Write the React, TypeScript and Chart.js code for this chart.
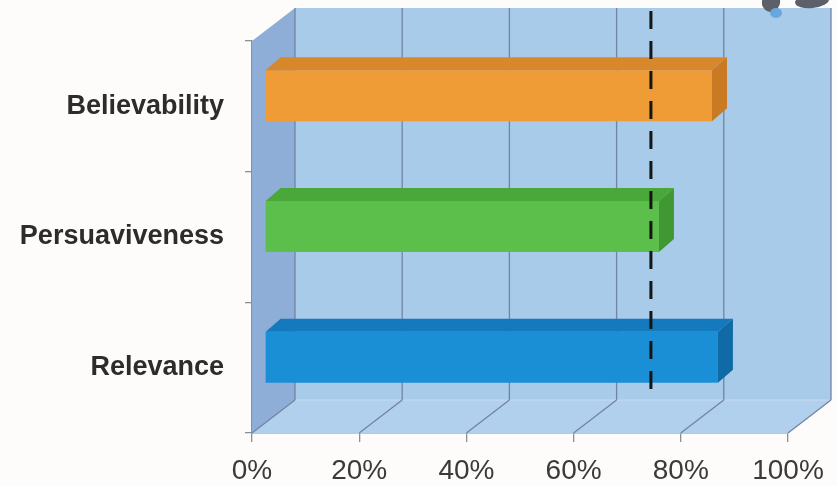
import React, { useEffect, useRef } from "react";
import { Chart, registerables } from "chart.js";

Chart.register(...registerables);

// Survey scores (percent of respondents)
const categories = ["Believability", "Persuaviveness", "Relevance"];
const scores = [83.4, 73.5, 84.5];
const benchmark = 72;
const xTickValues = [0, 20, 40, 60, 80, 100];

// Face colours for each bar: front, top, side
const frontColors = ["#ef9b36", "#5dbf4b", "#1a8fd5"];
const topColors = ["#d9872b", "#4aa83b", "#1479bd"];
const sideColors = ["#c97a22", "#3f9832", "#0f6aa6"];

// Perspective offsets of the plot box and of the bars
const BOX_DX = 43;
const BOX_DY = -33;
const BAR_SHIFT_X = 13;
const BAR_SHIFT_Y = -10.5;
const BAR_DEPTH_X = 15;
const BAR_DEPTH_Y = -13;

function poly(ctx: CanvasRenderingContext2D, pts: number[][], fill: string) {
  ctx.beginPath();
  ctx.moveTo(pts[0][0], pts[0][1]);
  for (let i = 1; i < pts.length; i++) ctx.lineTo(pts[i][0], pts[i][1]);
  ctx.closePath();
  ctx.fillStyle = fill;
  ctx.fill();
}

function line(ctx: CanvasRenderingContext2D, x1: number, y1: number, x2: number, y2: number) {
  ctx.beginPath();
  ctx.moveTo(x1, y1);
  ctx.lineTo(x2, y2);
  ctx.stroke();
}

const box3d = {
  id: "box3d",
  beforeDatasetsDraw(chart: any) {
    const { ctx, chartArea: a, scales } = chart;
    const xs = scales.x;
    const L = a.left, R = a.right, T = a.top, B = a.bottom;
    ctx.save();
    // back wall
    poly(ctx, [[L + BOX_DX, T + BOX_DY], [R + BOX_DX, T + BOX_DY], [R + BOX_DX, B + BOX_DY], [L + BOX_DX, B + BOX_DY]], "#a8cbea");
    // left side wall
    poly(ctx, [[L, T], [L + BOX_DX, T + BOX_DY], [L + BOX_DX, B + BOX_DY], [L, B]], "#8eaed8");
    // floor
    poly(ctx, [[L, B], [R, B], [R + BOX_DX, B + BOX_DY], [L + BOX_DX, B + BOX_DY]], "#b0d0ee");
    // floor/back edge
    ctx.strokeStyle = "rgba(200,222,244,0.9)";
    ctx.lineWidth = 1;
    line(ctx, L + BOX_DX, B + BOX_DY, R + BOX_DX, B + BOX_DY);
    // gridlines on back wall and floor
    ctx.strokeStyle = "#7483a0";
    ctx.lineWidth = 1.3;
    xTickValues.forEach((v) => {
      const px = xs.getPixelForValue(v);
      line(ctx, px + BOX_DX, T + BOX_DY, px + BOX_DX, B + BOX_DY);
      line(ctx, px + BOX_DX, B + BOX_DY, px, B);
    });
    ctx.restore();
  },
  beforeDatasetDraw(chart: any) {
    chart.ctx.save();
    chart.ctx.translate(BAR_SHIFT_X, BAR_SHIFT_Y);
  },
  afterDatasetDraw(chart: any, args: any) {
    const { ctx } = chart;
    args.meta.data.forEach((el: any, i: number) => {
      const { x, y, base, height } = el.getProps(["x", "y", "base", "height"], true);
      const top = y - height / 2;
      const bottom = y + height / 2;
      poly(ctx, [[base, top], [x, top], [x + BAR_DEPTH_X, top + BAR_DEPTH_Y], [base + BAR_DEPTH_X, top + BAR_DEPTH_Y]], topColors[i]);
      poly(ctx, [[x, top], [x + BAR_DEPTH_X, top + BAR_DEPTH_Y], [x + BAR_DEPTH_X, bottom + BAR_DEPTH_Y], [x, bottom]], sideColors[i]);
    });
    ctx.restore();
  },
  afterDatasetsDraw(chart: any) {
    const { ctx, chartArea: a, scales } = chart;
    const px = scales.x.getPixelForValue(benchmark) + BAR_SHIFT_X;
    ctx.save();
    ctx.strokeStyle = "#151515";
    ctx.lineWidth = 3;
    ctx.setLineDash([18, 12]);
    line(ctx, px, a.top - 30, px, a.bottom - 36);
    ctx.restore();
  },
  afterDraw(chart: any) {
    // small ornament peeking in at the top right corner
    const { ctx } = chart;
    ctx.save();
    ctx.fillStyle = "#5d6068";
    ctx.beginPath();
    ctx.ellipse(771, 2, 9, 10, 0.3, 0, Math.PI * 2);
    ctx.fill();
    ctx.beginPath();
    ctx.ellipse(812, 1, 17, 7, -0.1, 0, Math.PI * 2);
    ctx.fill();
    ctx.fillStyle = "#6aa6de";
    ctx.beginPath();
    ctx.ellipse(776, 13, 6, 5, 0, 0, Math.PI * 2);
    ctx.fill();
    ctx.restore();
  },
};

export default function App() {
  const ref = useRef<HTMLCanvasElement>(null);

  useEffect(() => {
    if (!ref.current) return;
    const chart = new Chart(ref.current, {
      type: "bar",
      data: {
        labels: categories,
        datasets: [
          {
            data: scores,
            backgroundColor: frontColors,
            borderWidth: 0,
            categoryPercentage: 1,
            barPercentage: 0.39,
            clip: false as any,
          },
        ],
      },
      options: {
        indexAxis: "y",
        responsive: false,
        animation: false,
        layout: { padding: { top: 41, right: 49, left: 0, bottom: 0 } },
        plugins: { legend: { display: false }, tooltip: { enabled: false } },
        scales: {
          x: {
            min: 0,
            max: 100,
            afterBuildTicks: (s: any) => {
              s.ticks = xTickValues.map((v) => ({ value: v }));
            },
            afterFit: (s: any) => {
              s.height = 53;
            },
            ticks: {
              callback: (v: any) => `${v}%`,
              color: "#3a3a3a",
              font: { family: "'Liberation Sans', Arial, sans-serif", size: 28 },
              padding: 12,
              maxRotation: 0,
            },
            grid: { drawOnChartArea: false, drawTicks: true, tickLength: 9, color: "#8a8f98", lineWidth: 1.3 },
            border: { display: true, color: "#8a8f98", width: 1.5 },
          },
          y: {
            afterFit: (s: any) => {
              s.width = 252;
            },
            ticks: {
              color: "#2c2c2c",
              font: { family: "'Liberation Sans', Arial, sans-serif", size: 27, weight: "bold" },
              padding: 21,
            },
            grid: { drawOnChartArea: false, drawTicks: true, tickLength: 7, color: "#8a8f98", lineWidth: 1.3, offset: true },
            border: { display: true, color: "#8a8f98", width: 1.5 },
          },
        },
      },
      plugins: [box3d],
    });
    return () => chart.destroy();
  }, []);

  return (
    <div style={{ position: "fixed", left: 0, top: 0, width: 837, height: 486, background: "#fdfcfa" }}>
      <canvas ref={ref} width={837} height={486} style={{ display: "block" }} />
    </div>
  );
}
